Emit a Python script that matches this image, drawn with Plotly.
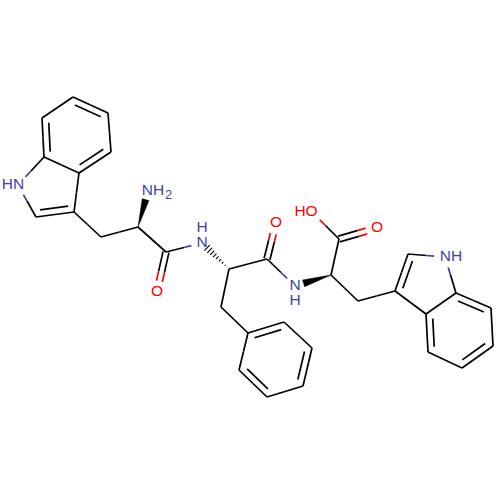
import numpy as np
import plotly.graph_objects as go

BLACK = '#000000'
BLUE = '#3F3FAF'
RED = '#FF0000'

# atom positions (pixels, y down)
atoms = {
    # left indole
    'a1': (73, 97), 'a2': (108, 113), 'a3': (111, 152), 'a4': (79, 173), 'a5': (44, 157), 'a6': (42, 118),
    'n1': (18, 185), 'a7': (36, 217), 'a8': (74, 212),
    # first residue
    'b1': (101, 237), 'b2': (138, 227), 'nh2': (148, 191), 'b3': (166, 252), 'o1': (157, 292), 'n2': (202, 243),
    # phenylalanine
    'c1': (229, 269), 'c2': (267, 259), 'o2': (276, 223), 'n3': (295, 286), 'c3': (221, 307),
    'p1': (248, 333), 'p2': (284, 322), 'p3': (312, 348), 'p4': (303, 386), 'p5': (267, 397), 'p6': (239, 370),
    # last residue
    'd1': (331, 275), 'd2': (339, 239), 'oh': (312, 212), 'o3': (377, 228), 'd3': (358, 301),
    # right indole
    'e1': (395, 291), 'e2': (408, 254), 'n4': (445, 257), 'e3': (456, 293), 'e4': (426, 314),
    'e5': (491, 308), 'e6': (493, 346), 'e7': (462, 368), 'e8': (428, 352),
}

single_bonds = [
    ('a2', 'a3'), ('a4', 'a5'), ('a6', 'a1'), ('a4', 'a8'), ('a5', 'n1'), ('n1', 'a7'),
    ('a8', 'b1'), ('b1', 'b2'), ('b2', 'b3'), ('b3', 'n2'),
    ('c1', 'c2'), ('c2', 'n3'), ('c1', 'c3'), ('c3', 'p1'),
    ('p2', 'p3'), ('p4', 'p5'), ('p6', 'p1'),
    ('d1', 'd2'), ('d2', 'oh'), ('d1', 'd3'), ('d3', 'e1'),
    ('e1', 'e4'), ('e2', 'n4'), ('n4', 'e3'), ('e3', 'e4'),
    ('e5', 'e6'), ('e7', 'e8'),
]
# ring double bonds, with the ring centre the inner line leans to
ring_doubles = [
    ('a1', 'a2', 'a4'), ('a3', 'a4', 'a1'), ('a5', 'a6', 'a2'), ('a7', 'a8', 'a5'),
    ('p1', 'p2', 'p4'), ('p3', 'p4', 'p6'), ('p5', 'p6', 'p2'),
    ('e1', 'e2', 'n4'), ('e3', 'e5', 'e7'), ('e6', 'e7', 'e4'), ('e8', 'e4', 'e6'),
]
carbonyls = [('b3', 'o1'), ('c2', 'o2'), ('d2', 'o3')]
wedges = [('b2', 'nh2'), ('d1', 'n3')]
hashes = [('c1', 'n2')]

label_colors = {'n1': BLUE, 'nh2': BLUE, 'n2': BLUE, 'n3': BLUE, 'n4': BLUE,
                'o1': RED, 'o2': RED, 'o3': RED, 'oh': RED}

label_text = ['HN', 'NH', '2', 'N', 'H', 'O', 'O', 'N', 'H', 'HO', 'O', 'NH']
label_x = [13, 153, 168.5, 202, 202, 157, 276, 295, 295, 306, 377, 451]
label_y = [185, 191, 196, 243, 228, 292, 223, 286, 301, 212, 228, 257]
label_size = [15.5, 15.5, 13, 15.5, 15.5, 15.5, 15.5, 15.5, 15.5, 15.5, 15.5, 15.5]
label_color = [BLUE, BLUE, BLUE, BLUE, BLUE, RED, RED, BLUE, BLUE, RED, RED, BLUE]

LABEL_GAP = 11
segs = {BLACK: ([], []), BLUE: ([], []), RED: ([], [])}


def add_seg(p, q, color):
    segs[color][0].extend([p[0], q[0], None])
    segs[color][1].extend([p[1], q[1], None])


def add_bond(p, q, name_p, name_q):
    # half of the bond takes the colour of the labelled atom, trimmed at the label
    p, q = np.array(p, float), np.array(q, float)
    u = (q - p) / np.linalg.norm(q - p)
    mid = (p + q) / 2
    start = p + u * LABEL_GAP if name_p in label_colors else p
    end = q - u * LABEL_GAP if name_q in label_colors else q
    add_seg(start, mid, label_colors.get(name_p, BLACK))
    add_seg(mid, end, label_colors.get(name_q, BLACK))


for a, b in single_bonds:
    add_bond(atoms[a], atoms[b], a, b)

for a, b, c in ring_doubles:
    add_bond(atoms[a], atoms[b], a, b)
    p, q, r = (np.array(atoms[k], float) for k in (a, b, c))
    u = (q - p) / np.linalg.norm(q - p)
    n = np.array([-u[1], u[0]])
    if np.dot(n, r - p) < 0:
        n = -n
    trim = 0.13 * np.linalg.norm(q - p)
    add_seg(p + u * trim + n * 6.5, q - u * trim + n * 6.5, BLACK)

for a, b in carbonyls:
    p, q = np.array(atoms[a], float), np.array(atoms[b], float)
    u = (q - p) / np.linalg.norm(q - p)
    n = np.array([-u[1], u[0]]) * 3
    add_bond(p + n, q + n, a, b)
    add_bond(p - n, q - n, a, b)

fig = go.Figure()

for color, (xs, ys) in segs.items():
    fig.add_trace(go.Scatter(x=xs, y=ys, mode='lines', line=dict(color=color, width=1.7), hoverinfo='skip'))

for a, b in wedges:
    p, q = np.array(atoms[a], float), np.array(atoms[b], float)
    u = (q - p) / np.linalg.norm(q - p)
    n = np.array([-u[1], u[0]]) * 3.5
    tail = q - u * 9
    corners = [p, tail + n, tail - n, p]
    fig.add_trace(go.Scatter(x=[c[0] for c in corners], y=[c[1] for c in corners], mode='lines',
                             fill='toself', fillcolor=BLACK, line=dict(color=BLACK, width=0.5), hoverinfo='skip'))

for a, b in hashes:
    p, q = np.array(atoms[a], float), np.array(atoms[b], float)
    u = (q - p) / np.linalg.norm(q - p)
    n = np.array([-u[1], u[0]])
    length = np.linalg.norm(q - p) - 7
    hx, hy = [], []
    for t in np.linspace(0.06, 1, 9):
        c = p + u * length * t
        w = 3.8 * t
        hx.extend([c[0] - n[0] * w, c[0] + n[0] * w, None])
        hy.extend([c[1] - n[1] * w, c[1] + n[1] * w, None])
    fig.add_trace(go.Scatter(x=hx, y=hy, mode='lines', line=dict(color=BLACK, width=1.1), hoverinfo='skip'))

fig.add_trace(go.Scatter(
    x=label_x, y=label_y, text=label_text, mode='text', textposition='middle center',
    textfont=dict(family='Liberation Sans', size=label_size, color=label_color), hoverinfo='skip'))

fig.update_layout(
    width=500, height=500, margin=dict(l=0, r=0, t=0, b=0), showlegend=False,
    paper_bgcolor='white', plot_bgcolor='white',
    xaxis=dict(range=[0, 500], visible=False, fixedrange=True),
    yaxis=dict(range=[500, 0], visible=False, fixedrange=True),
)
# the page's default body margin would push the plot 8px off
fig.write_html("out.html", config=dict(displayModeBar=False),
               post_script="document.body.style.margin='0';")
